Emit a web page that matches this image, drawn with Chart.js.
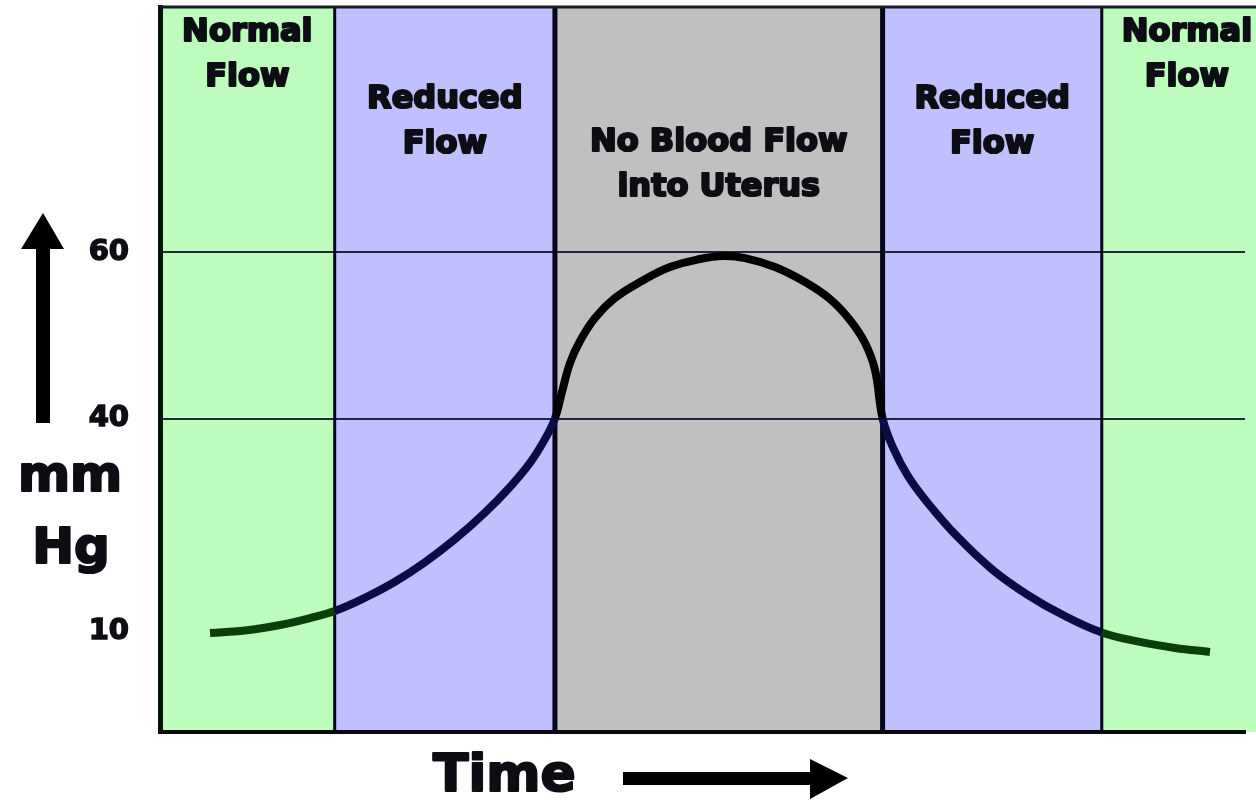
<!DOCTYPE html>
<html>
<head>
<meta charset="utf-8">
<script src="https://cdn.jsdelivr.net/npm/chart.js@4.4.1/dist/chart.umd.min.js"></script>
<style>
  html, body { margin: 0; padding: 0; background: #ffffff; }
  canvas { display: block; }
</style>
</head>
<body>
<canvas id="chart" width="1256" height="802"></canvas>
<script>
// Uterine pressure during a contraction (schematic)

// curve samples: time (arbitrary units) and pressure (mm Hg)
const timeX = [4.61, 7.83, 11.06, 13.82, 16.1, 18.89, 21.66, 24.42, 27.19, 29.95, 32.26, 34.10, 35.48, 36.4,
    37.05, 37.79, 38.71, 40.09, 41.94, 44.24, 47.00, 49.77, 51.89, 53.92, 56.68, 59.45, 61.75, 63.59, 64.98, 65.90, 66.6,
    67.56, 68.94, 70.78, 73.55, 76.77, 80.00, 83.23, 86.8, 90.32, 93.55, 96.77];
const pressure = [9.9, 10.21, 10.98, 11.95, 12.94, 14.81, 17.05, 19.80, 23.04, 26.78, 30.38, 33.76, 37.10, 40,
    43.18, 46.67, 49.31, 52.08, 54.48, 56.40, 58.20, 59.16, 59.52, 59.28, 58.20, 56.40, 54.36, 51.84, 49.07, 45.83, 40,
    35.9, 31.9, 28.1, 23.3, 18.7, 15.19, 12.38, 9.95, 9.0, 8.4, 8.0];

// flow phases along the time axis
const bandEdges = [0, 16.1, 36.4, 66.6, 86.8, 102.5];
const bandKinds = ['normal', 'reduced', 'none', 'reduced', 'normal'];
const bandLabels = [
    ['Normal', 'Flow'],
    ['Reduced', 'Flow'],
    ['No Blood Flow', 'into Uterus'],
    ['Reduced', 'Flow'],
    ['Normal', 'Flow']
];

// y axis
const yTickValues = [10, 40, 60];
const yTickLabels = ['10', '40', '60'];
const yGridValues = [40, 60];

const FONT = '"DejaVu Sans", "Liberation Sans", Arial, sans-serif';
const INK = '#0d0d14';
const bandFill = { normal: '#bdfcbd', reduced: '#c0c0ff', none: '#c0c0c0' };
const lineColor = { normal: '#0a3f0a', reduced: '#0b0b45', none: '#000000' };
const dividerWidths = [3, 5, 5, 3];
const labelTop = [33, 100, 143, 100, 33];

// linear scale whose slope changes at given stops (schematic axis)
class StopScale extends Chart.LinearScale {
    static id = 'stops';
    _frac(v) {
        const s = this.options.stops;
        if (v <= s[0].value) return s[0].at;
        for (let i = 1; i < s.length; i++) {
            if (v <= s[i].value) {
                const a = s[i - 1], b = s[i];
                return a.at + (v - a.value) / (b.value - a.value) * (b.at - a.at);
            }
        }
        return s[s.length - 1].at;
    }
    getPixelForValue(v) {
        if (v === null || v === undefined) return NaN;
        return this.getPixelForDecimal(this._frac(v));
    }
    getValueForPixel(p) {
        const f = this.getDecimalForPixel(p);
        const s = this.options.stops;
        for (let i = 1; i < s.length; i++) {
            if (f <= s[i].at) {
                const a = s[i - 1], b = s[i];
                return a.value + (f - a.at) / (b.at - a.at) * (b.value - a.value);
            }
        }
        return s[s.length - 1].value;
    }
}
Chart.register(StopScale);

function bandIndex(x) {
    for (let i = 0; i < bandKinds.length; i++) {
        if (x < bandEdges[i + 1]) return i;
    }
    return bandKinds.length - 1;
}

function boldText(ctx, text, x, y, size, align) {
    ctx.font = 'bold ' + size + 'px ' + FONT;
    ctx.textAlign = align || 'center';
    ctx.textBaseline = 'middle';
    ctx.fillStyle = INK;
    ctx.strokeStyle = INK;
    ctx.lineWidth = 2.2;
    ctx.lineJoin = 'round';
    ctx.fillText(text, x, y);
    ctx.strokeText(text, x, y);
}

const bandsPlugin = {
    id: 'bands',
    beforeDraw(chart) {
        const { ctx, chartArea } = chart;
        const xs = chart.scales.x;
        ctx.save();
        for (let i = 0; i < bandKinds.length; i++) {
            const x0 = xs.getPixelForValue(bandEdges[i]);
            const x1 = xs.getPixelForValue(bandEdges[i + 1]);
            ctx.fillStyle = bandFill[bandKinds[i]];
            ctx.fillRect(x0, chartArea.top, x1 - x0, chartArea.bottom - chartArea.top);
        }
        ctx.restore();
    },
    beforeDatasetsDraw(chart) {
        const { ctx, chartArea } = chart;
        const xs = chart.scales.x;
        ctx.save();
        // phase dividers
        ctx.strokeStyle = '#05051a';
        for (let i = 1; i < bandKinds.length; i++) {
            const x = xs.getPixelForValue(bandEdges[i]);
            ctx.lineWidth = dividerWidths[i - 1];
            ctx.beginPath();
            ctx.moveTo(x, chartArea.top);
            ctx.lineTo(x, chartArea.bottom);
            ctx.stroke();
        }
        // top frame line
        ctx.lineWidth = 3;
        ctx.strokeStyle = '#1a1a22';
        ctx.beginPath();
        ctx.moveTo(chartArea.left, chartArea.top);
        ctx.lineTo(chart.width, chartArea.top);
        ctx.stroke();
        // phase labels
        for (let i = 0; i < bandKinds.length; i++) {
            const cx = (xs.getPixelForValue(bandEdges[i]) + xs.getPixelForValue(bandEdges[i + 1])) / 2;
            bandLabels[i].forEach((line, j) => {
                boldText(ctx, line, cx, labelTop[i] + j * 45, 32);
            });
        }
        ctx.restore();
    },
    afterDraw(chart) {
        const { ctx } = chart;
        ctx.save();
        ctx.fillStyle = '#000';
        // up arrow beside the y axis
        ctx.fillRect(36, 246, 14, 177);
        ctx.beginPath();
        ctx.moveTo(43, 213);
        ctx.lineTo(64, 249);
        ctx.lineTo(21, 249);
        ctx.closePath();
        ctx.fill();
        // y axis title
        boldText(ctx, 'mm', 70, 478, 50);
        boldText(ctx, 'Hg', 71, 550, 50);
        // x axis title and arrow
        boldText(ctx, 'Time', 433, 777, 52, 'left');
        ctx.fillStyle = '#000';
        ctx.fillRect(623, 772, 190, 13);
        ctx.beginPath();
        ctx.moveTo(848, 778);
        ctx.lineTo(810, 759);
        ctx.lineTo(810, 799);
        ctx.closePath();
        ctx.fill();
        ctx.restore();
    }
};

new Chart(document.getElementById('chart'), {
    type: 'line',
    data: {
        datasets: [{
            data: timeX.map((x, i) => ({ x: x, y: pressure[i] })),
            borderWidth: 8,
            borderCapStyle: 'butt',
            pointRadius: 0,
            tension: 0.4,
            segment: {
                borderColor: c => lineColor[bandKinds[bandIndex((c.p0.parsed.x + c.p1.parsed.x) / 2)]]
            }
        }]
    },
    plugins: [bandsPlugin],
    options: {
        responsive: false,
        animation: false,
        devicePixelRatio: 1,
        layout: { padding: { top: 7, right: 11, left: 0, bottom: 0 } },
        plugins: {
            legend: { display: false },
            tooltip: { enabled: false }
        },
        scales: {
            x: {
                type: 'linear',
                min: 0,
                max: 100,
                ticks: { display: false },
                grid: { display: false, drawTicks: false },
                border: { display: true, width: 4, color: '#0a0a0a' },
                afterFit: s => { s.height = 70; s.paddingLeft = 0; s.paddingRight = 0; }
            },
            y: {
                type: 'stops',
                min: 0,
                max: 90,
                stops: [
                    { value: 0, at: 0 },
                    { value: 10, at: 0.138 },
                    { value: 40, at: 0.4324 },
                    { value: 60, at: 0.662 },
                    { value: 90, at: 1 }
                ],
                afterBuildTicks: s => { s.ticks = yTickValues.map(v => ({ value: v })); },
                afterFit: s => { s.width = 160; s.paddingTop = 0; s.paddingBottom = 0; },
                ticks: {
                    padding: 31,
                    color: INK,
                    textStrokeColor: INK,
                    textStrokeWidth: 1.5,
                    font: { family: FONT, size: 29, weight: 'bold' },
                    callback: (v) => yTickLabels[yTickValues.indexOf(v)]
                },
                grid: {
                    drawTicks: false,
                    lineWidth: 2,
                    color: c => (c.tick && yGridValues.includes(c.tick.value)) ? 'rgba(5,5,35,0.85)' : 'rgba(0,0,0,0)'
                },
                border: { display: true, width: 5, color: '#051505' }
            }
        }
    }
});
</script>
</body>
</html>
